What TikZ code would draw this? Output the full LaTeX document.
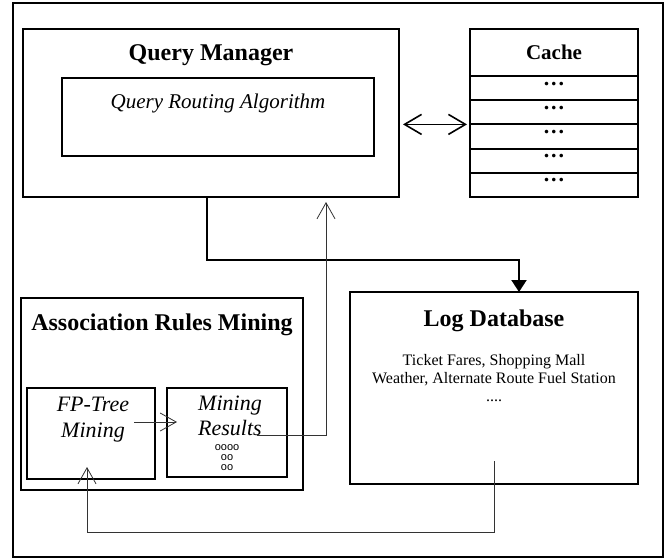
\documentclass[tikz,border=0pt]{standalone}
\usepackage{fontspec}
\setmainfont{Liberation Serif}
\setsansfont{Liberation Sans}
\usetikzlibrary{arrows.meta,positioning}
\tikzset{
  box/.style={draw, line width=1pt, inner sep=0pt, outer sep=0pt},
  cellrow/.style={box, minimum width=84pt, minimum height=12.1pt},
  head/.style={anchor=base, inner sep=0pt, font=\fontsize{12}{14}\selectfont\bfseries},
  thinline/.style={line width=0.4pt, draw=black!80},
  openhead/.style={-{Straight Barb[length=8pt,width=9pt]}},
}
\begin{document}
\begin{tikzpicture}[x=0.5pt,y=-0.5pt]
\useasboundingbox (0,0) rectangle (668,558);
\draw[line width=1pt] (13,3) rectangle (663,557);
\node[box, minimum width=188pt, minimum height=84pt] (qm) at (211,113) {};
\node[head] (qmtitle) at ([yshift=-15.5pt]qm.north) {Query Manager};
\node[box, minimum width=156pt, minimum height=39pt] (qra) at (218,117) {};
\node[anchor=base, inner sep=0pt, font=\fontsize{10.5}{12}\selectfont\itshape] (qratext) at ([yshift=-15pt]qra.north) {Query Routing Algorithm};
\node[box, minimum width=84pt, minimum height=23.5pt] (cache) at (554,52.5) {};
\node[head, font=\fontsize{10.5}{12}\selectfont\bfseries] (cachetitle) at ([yshift=-15pt]cache.north) {Cache};
\foreach \i/\p in {1/cache,2/row1,3/row2,4/row3,5/row4}{
  \node[cellrow, below=0pt of \p] (row\i) {};
  \node[anchor=base, inner sep=0pt, font=\fontsize{11}{12}\selectfont\bfseries] (dots\i) at ([yshift=-4.5pt]row\i.north) {.\kern0.9pt.\kern0.9pt.};
}
\draw[line width=0.8pt, {Straight Barb[length=8.5pt,width=10pt]}-{Straight Barb[length=8.5pt,width=10pt]}, shorten <=2pt, shorten >=1.5pt] (qm.east |- row2.south) -- (row2.south west);
\node[box, minimum width=144pt, minimum height=96pt] (logdb) at (494,388) {};
\node[head] (logtitle) at ([yshift=-17pt]logdb.north) {Log Database};
\node[anchor=north, inner sep=0pt, align=center, font=\fontsize{8}{9}\selectfont] (logtext) at ([yshift=-31pt]logdb.north) {Ticket Fares, Shopping Mall\\Weather, Alternate Route Fuel Station\\....};
\coordinate (bend) at (519,260);
\draw[line width=1pt, -{Triangle[length=6pt,width=7.5pt]}] ([xshift=-2pt]qm.south) |- (bend) -- ([xshift=12.5pt]logdb.north);
\node[box, minimum width=141pt, minimum height=96pt] (arm) at (162,394) {};
\node[head] (armtitle) at ([yshift=-16pt]arm.north) {Association Rules Mining};
\node[box, minimum width=64pt, minimum height=45.5pt] (fp) at (91,433.5) {};
\node[anchor=north, inner sep=0pt, align=center, font=\fontsize{11}{13}\selectfont\itshape] (fptext) at ([xshift=1pt,yshift=-4.2pt]fp.north) {FP-Tree\\Mining};
\node[box, minimum width=60pt, minimum height=44.5pt] (mr) at (227,432.5) {};
\node[anchor=north, inner sep=0pt, align=center, font=\fontsize{11}{12.75}\selectfont\itshape] (mrtext) at ([xshift=1.5pt,yshift=-3.7pt]mr.north) {Mining\\Results};
\node[anchor=north, inner sep=0pt, align=center, font=\sffamily\fontsize{5.5}{5}\selectfont] (mrsets) at ([yshift=-28pt]mr.north) {oooo\\oo\\oo};
\draw[thinline, openhead] ([xshift=-10.5pt,yshift=5.75pt]fp.east) -- ([xshift=5pt,yshift=5.25pt]mr.west);
\draw[thinline, openhead, shorten >=2.5pt] ([xshift=15pt,yshift=-1.25pt]mr.center) -| ([xshift=57.5pt]qm.south);
\coordinate (low) at (0,532);
\draw[thinline, openhead] ([yshift=11.5pt]logdb.south) -- (logdb.south |- low) -| ([xshift=-2pt,yshift=6pt]fp.south);
\end{tikzpicture}
\end{document}
